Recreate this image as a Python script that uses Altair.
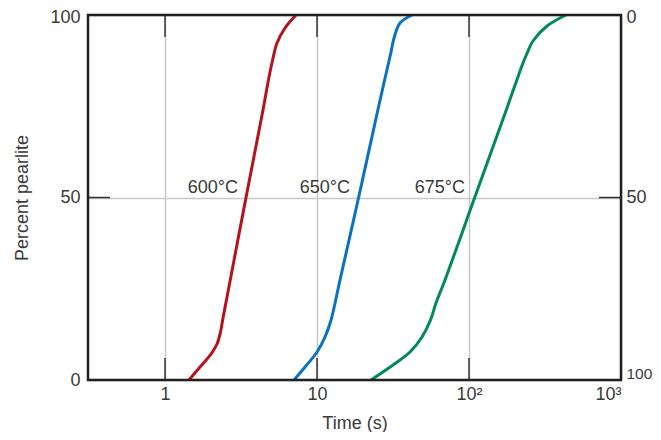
import altair as alt
import pandas as pd

# ---- data ----
temps = ["600°C", "650°C", "675°C"]
colors = ["#b5121b", "#0a72c2", "#00885f"]

t600 = [1.438, 1.699, 2.007, 2.198, 2.318, 2.407, 2.558, 3.411, 4.413, 4.833, 5.105, 5.456, 6.157, 7.275]
p600 = [0, 3.56, 7.12, 9.86, 13.15, 16.99, 22.74, 50, 73.97, 83.01, 87.67, 92.33, 96.44, 100]

t650 = [7.06, 8.34, 10.0, 11.29, 12.37, 14.17, 18.78, 25.31, 28.14, 30.59, 32.26, 35.16, 42.17]
p650 = [0, 3.56, 7.67, 11.78, 16.44, 27.4, 50, 74.52, 83.01, 89.59, 93.97, 97.81, 100]

t675 = [22.66, 31.62, 40.92, 49.07, 55.81, 60.66, 69.51, 109.0, 177.8, 195.6, 226.6, 238.2, 263.7, 326.0, 434.6]
p675 = [0, 4.11, 7.67, 11.78, 16.44, 21.10, 27.40, 50, 74.52, 79.45, 86.85, 89.04, 92.88, 96.99, 100]

label_t = [3.02, 16.5, 94.1]
label_p = [52.6, 52.6, 52.6]

x_ticks = [1, 10, 100, 1000]
x_inner_ticks = [1, 10, 100]
y_ticks = [0, 50, 100]

rows = []
for name, ts, ps in zip(temps, [t600, t650, t675], [p600, p650, p675]):
    for i, (t, p) in enumerate(zip(ts, ps)):
        rows.append({"temp": name, "t": t, "p": p, "order": i})
curves = pd.DataFrame(rows)
labels = pd.DataFrame({"temp": temps, "t": label_t, "p": label_p})

W, H = 533, 365
FONT = "Liberation Sans"
TXT = "#3a3a3a"
DARK = "#231f20"

xscale = alt.Scale(type="log", domain=[0.3114, 1000], nice=False)
yscale = alt.Scale(domain=[0, 100], nice=False, zero=False)

x_axis = alt.Axis(
    values=x_ticks,
    labelExpr="datum.value == 1 ? '1' : datum.value == 10 ? '10' : datum.value == 100 ? '10²' : '10³'",
    title="Time (s)", ticks=False, domain=False, grid=True,
    gridColor="#c8c8c8", gridWidth=1.5, labelPadding=5, titlePadding=11,
    labelFontSize=18, titleFontSize=18, labelColor=TXT, titleColor=TXT,
    labelFont=FONT, titleFont=FONT, titleFontWeight="normal",
)
y_axis = alt.Axis(
    values=y_ticks, title="Percent pearlite", ticks=False, domain=False, grid=True,
    gridColor="#c8c8c8", gridWidth=1.5, labelPadding=8, titlePadding=18,
    labelFontSize=18, titleFontSize=18, labelColor=TXT, titleColor=TXT,
    labelFont=FONT, titleFont=FONT, titleFontWeight="normal",
    labelOffset={"condition": {"test": "datum.value == 100", "value": 2}, "value": 0},
)

lines = alt.Chart(curves).mark_line(strokeWidth=3, interpolate="catmull-rom").encode(
    x=alt.X("t:Q", scale=xscale, axis=x_axis),
    y=alt.Y("p:Q", scale=yscale, axis=y_axis),
    color=alt.Color("temp:N", scale=alt.Scale(domain=temps, range=colors), legend=None),
    order="order:Q",
)

texts = alt.Chart(labels).mark_text(
    align="right", baseline="middle", fontSize=18, font=FONT, color=TXT
).encode(
    x=alt.X("t:Q", scale=xscale),
    y=alt.Y("p:Q", scale=yscale),
    text="temp:N",
)

xt = pd.DataFrame({"v": x_inner_ticks})
tick_bottom = alt.Chart(xt).mark_rule(color="#333333", strokeWidth=1.5).encode(
    x=alt.X("v:Q", scale=xscale), y=alt.value(H - 22), y2=alt.value(H)
)
tick_top = alt.Chart(xt).mark_rule(color="#333333", strokeWidth=1.5).encode(
    x=alt.X("v:Q", scale=xscale), y=alt.value(0), y2=alt.value(22)
)
yt = pd.DataFrame({"v": [50]})
tick_left = alt.Chart(yt).mark_rule(color="#333333", strokeWidth=1.5).encode(
    y=alt.Y("v:Q", scale=yscale), x=alt.value(0), x2=alt.value(22)
)

frame = alt.Chart(yt).mark_rect(fill=None, stroke=DARK, strokeWidth=2.5).encode(
    x=alt.value(0), x2=alt.value(W), y=alt.value(0), y2=alt.value(H)
)

inner = alt.layer(lines, texts, tick_bottom, tick_top, tick_left, frame)

right_axis = alt.Axis(
    values=y_ticks, orient="right", title=None, ticks=False, domain=False, grid=False,
    labelPadding=5, labelColor=TXT, labelFont=FONT,
    labelFontSize={"condition": {"test": "datum.value == 100", "value": 15.5}, "value": 18},
    labelOffset={"condition": [{"test": "datum.value == 100", "value": -7},
                               {"test": "datum.value == 0", "value": 2}],
                 "value": 0},
)
tick_right = alt.Chart(yt).mark_rule(color="#333333", strokeWidth=1.5).encode(
    y=alt.Y("v:Q", scale=alt.Scale(domain=[0, 100], reverse=True, nice=False), axis=right_axis),
    x=alt.value(W - 22), x2=alt.value(W),
)

chart = alt.layer(inner, tick_right).resolve_scale(y="independent").properties(
    width=W, height=H,
    autosize=alt.AutoSizeParams(type="none"),
    padding={"left": 80, "top": 7, "right": 32, "bottom": 52},
).configure_view(stroke=None).configure(background="white")

chart.save("out.html", embed_options={"renderer": "svg", "actions": False})
